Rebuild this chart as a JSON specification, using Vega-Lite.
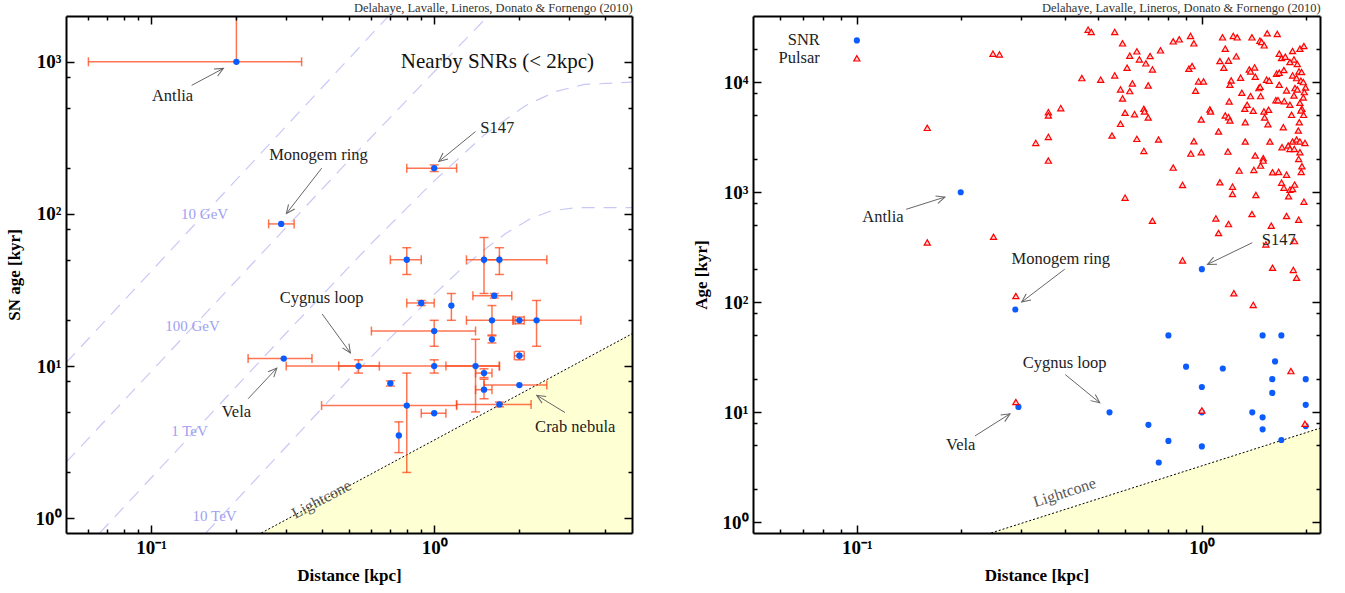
{
"$schema":"https://vega.github.io/schema/vega-lite/v6.json",
"padding":{"left":5,"top":1,"right":10,"bottom":5},
"spacing":121,
"bounds":"flush",
"config":{"view":{"stroke":null},"axis":{"grid":false,"labelFont":"Liberation Serif","labelFontWeight":"bold","labelFontSize":19,"labelColor":"black","titleFont":"Liberation Serif","titleFontWeight":"bold","titleFontSize":17,"titleColor":"black","domainColor":"black","domainWidth":2,"tickColor":"black","tickWidth":1.5,"labelOverlap":false,"labelFlush":false}},
"datasets":{
"lightcone":[{"d":0.245,"t":0.8},{"d":5,"t":16.3}],
"snr":[
{"name":"Antlia","d":0.2,"t":1000,"dlo":0.06,"dhi":0.34,"tlo":1000,"thi":10000},
{"name":"Monogem ring","d":0.288,"t":86,"dlo":0.26,"dhi":0.32,"tlo":null,"thi":null},
{"name":"S147","d":1.0,"t":200,"dlo":0.8,"dhi":1.2,"tlo":190,"thi":210},
{"name":"a","d":0.8,"t":50,"dlo":0.7,"dhi":0.9,"tlo":40,"thi":60},
{"name":"b","d":1.5,"t":50,"dlo":1.3,"dhi":1.7,"tlo":30,"thi":70},
{"name":"c","d":1.7,"t":50,"dlo":1.5,"dhi":2.5,"tlo":40,"thi":60},
{"name":"l","d":1.63,"t":29,"dlo":1.37,"dhi":1.88,"tlo":28,"thi":30},
{"name":"dd","d":0.9,"t":26,"dlo":0.8,"dhi":1.0,"tlo":25,"thi":27},
{"name":"e","d":1.15,"t":25,"dlo":null,"dhi":null,"tlo":20,"thi":30},
{"name":"f","d":1.0,"t":17,"dlo":0.6,"dhi":1.4,"tlo":13.5,"thi":20},
{"name":"g","d":1.6,"t":20,"dlo":1.3,"dhi":1.9,"tlo":16,"thi":25},
{"name":"h","d":2.0,"t":20,"dlo":1.93,"dhi":2.08,"tlo":19,"thi":21},
{"name":"i","d":2.3,"t":20,"dlo":1.9,"dhi":3.3,"tlo":13.5,"thi":27},
{"name":"j","d":1.6,"t":15,"dlo":null,"dhi":null,"tlo":14.2,"thi":15.8},
{"name":"k","d":2.0,"t":11.7,"dlo":1.92,"dhi":2.08,"tlo":11,"thi":12.5},
{"name":"Vela","d":0.294,"t":11.2,"dlo":0.22,"dhi":0.37,"tlo":null,"thi":null},
{"name":"Cygnus loop","d":0.54,"t":10,"dlo":0.46,"dhi":0.64,"tlo":9,"thi":11},
{"name":"n","d":1.0,"t":10,"dlo":0.3,"dhi":1.7,"tlo":9,"thi":11},
{"name":"o","d":1.4,"t":10,"dlo":1.1,"dhi":1.7,"tlo":5,"thi":15},
{"name":"u","d":1.5,"t":9,"dlo":1.4,"dhi":1.6,"tlo":8.4,"thi":9.6},
{"name":"p","d":0.7,"t":7.7,"dlo":null,"dhi":null,"tlo":7.4,"thi":8.0},
{"name":"v","d":1.5,"t":7,"dlo":1.4,"dhi":1.6,"tlo":6.1,"thi":8.2},
{"name":"w","d":2.0,"t":7.5,"dlo":1.5,"dhi":2.5,"tlo":null,"thi":null},
{"name":"q","d":0.8,"t":5.5,"dlo":0.4,"dhi":1.2,"tlo":2.0,"thi":9.0},
{"name":"r","d":1.7,"t":5.6,"dlo":1.2,"dhi":2.2,"tlo":5.4,"thi":5.8},
{"name":"s","d":1.0,"t":4.9,"dlo":0.9,"dhi":1.1,"tlo":null,"thi":null},
{"name":"t","d":0.75,"t":3.5,"dlo":null,"dhi":null,"tlo":2.7,"thi":4.3}],
"curves":[
{"E":"10 GeV","d":0.05,"t":10.5},{"E":"10 GeV","d":0.69,"t":2000},
{"E":"100 GeV","d":0.05,"t":2.33},{"E":"100 GeV","d":0.5,"t":225},{"E":"100 GeV","d":1.0,"t":860},{"E":"100 GeV","d":1.55,"t":2000},
{"E":"1 TeV","d":0.0658,"t":0.8},{"E":"1 TeV","d":0.3,"t":16.5},{"E":"1 TeV","d":0.6,"t":64},{"E":"1 TeV","d":1.0,"t":165},{"E":"1 TeV","d":1.5,"t":330},{"E":"1 TeV","d":2.1,"t":515},{"E":"1 TeV","d":2.7,"t":640},{"E":"1 TeV","d":3.4,"t":710},{"E":"1 TeV","d":5,"t":735},
{"E":"10 TeV","d":0.156,"t":0.8},{"E":"10 TeV","d":0.5,"t":8.2},{"E":"10 TeV","d":0.8,"t":19.7},{"E":"10 TeV","d":1.0,"t":29.6},{"E":"10 TeV","d":1.25,"t":43.7},{"E":"10 TeV","d":1.5,"t":58},{"E":"10 TeV","d":1.8,"t":75},{"E":"10 TeV","d":2.2,"t":93.7},{"E":"10 TeV","d":2.6,"t":105},{"E":"10 TeV","d":3.2,"t":110},{"E":"10 TeV","d":5,"t":110}],
"curvelabels":[{"text":"10 GeV","d":0.1544,"t":99.4},{"text":"100 GeV","d":0.14,"t":18.3},{"text":"1 TeV","d":0.1366,"t":3.73},{"text":"10 TeV","d":0.1675,"t":1.03}],
"arrows":[
{"name":"Antlia","d1":0.139,"t1":700,"d2":0.18,"t2":905},
{"name":"Monogem ring","d1":0.4005,"t1":200,"d2":0.3004,"t2":100.6},
{"name":"S147","d1":1.40,"t1":348,"d2":1.038,"t2":221},
{"name":"Cygnus loop","d1":0.402,"t1":22,"d2":0.506,"t2":12.2},
{"name":"Vela","d1":0.22,"t1":6.1,"d2":0.278,"t2":9.7},
{"name":"Crab nebula","d1":2.9,"t1":4.95,"d2":2.303,"t2":6.43}],
"labels":[
{"text":"Antlia","d":0.119,"t":600},
{"text":"Monogem ring","d":0.39,"t":245},
{"text":"S147","d":1.67,"t":368},
{"text":"Cygnus loop","d":0.40,"t":27.9},
{"text":"Vela","d":0.20,"t":5.0},
{"text":"Crab nebula","d":3.15,"t":3.96}],
"pulsars":[
{"d":0.468,"t":30060},{"d":0.478,"t":28640},{"d":0.559,"t":28640},{"d":0.589,"t":22580},{"d":0.826,"t":23550},{"d":0.86,"t":24550},{"d":0.927,"t":26330},{"d":0.948,"t":22580},{"d":1.148,"t":25600},{"d":1.169,"t":20180},
{"d":1.233,"t":26330},{"d":1.266,"t":25600},{"d":1.397,"t":25600},{"d":1.473,"t":23880},{"d":1.49,"t":23220},{"d":1.516,"t":21650},{"d":1.547,"t":27850},{"d":1.654,"t":27460},{"d":0.618,"t":17430},{"d":0.648,"t":19090},
{"d":0.659,"t":16140},{"d":0.708,"t":17300},{"d":0.759,"t":19500},{"d":0.688,"t":14850},{"d":0.607,"t":13550},{"d":0.719,"t":13090},{"d":0.917,"t":13270},{"d":0.937,"t":14030},{"d":1.128,"t":15580},{"d":1.195,"t":15700},
{"d":1.158,"t":13550},{"d":1.258,"t":17190},{"d":1.676,"t":18180},{"d":1.702,"t":16600},{"d":1.745,"t":17070},{"d":1.832,"t":19230},{"d":1.924,"t":20180},{"d":1.976,"t":21350},{"d":1.849,"t":16140},{"d":1.891,"t":14640},
{"d":1.8,"t":15270},{"d":0.449,"t":10910},{"d":0.509,"t":10540},{"d":0.559,"t":11540},{"d":0.581,"t":8603},{"d":0.629,"t":9759},{"d":0.618,"t":8307},{"d":0.589,"t":7126},{"d":0.699,"t":9357},{"d":0.978,"t":10180},
{"d":1.011,"t":10180},{"d":0.959,"t":8366},{"d":1.216,"t":10390},{"d":1.206,"t":9489},{"d":1.295,"t":10990},{"d":1.372,"t":13090},{"d":1.384,"t":12550},{"d":1.422,"t":13650},{"d":1.428,"t":11220},{"d":1.54,"t":10540},
{"d":1.568,"t":10320},{"d":1.646,"t":11950},{"d":1.676,"t":12210},{"d":1.729,"t":12910},{"d":1.676,"t":9489},{"d":1.832,"t":11540},{"d":1.882,"t":10910},{"d":1.912,"t":12550},{"d":1.946,"t":12380},{"d":1.937,"t":10320},
{"d":1.968,"t":10030},{"d":1.998,"t":8974},{"d":1.463,"t":8851},{"d":1.476,"t":9100},{"d":1.306,"t":8024},{"d":1.384,"t":7482},{"d":1.48,"t":7482},{"d":1.639,"t":6880},{"d":1.662,"t":6880},{"d":1.733,"t":6737},
{"d":1.76,"t":8425},{"d":1.8,"t":6237},{"d":1.862,"t":8851},{"d":1.891,"t":8603},{"d":1.849,"t":7586},{"d":1.981,"t":8136},{"d":1.968,"t":7276},{"d":1.924,"t":6506},{"d":1.95,"t":5737},{"d":1.937,"t":5540},
{"d":1.972,"t":5058},{"d":1.2,"t":6691},{"d":1.055,"t":5657},{"d":1.06,"t":5425},{"d":1.169,"t":4988},{"d":1.195,"t":4817},{"d":1.206,"t":4492},{"d":1.332,"t":5737},{"d":1.353,"t":6237},{"d":1.409,"t":5502},
{"d":1.513,"t":5425},{"d":1.561,"t":5618},{"d":1.52,"t":4784},{"d":1.554,"t":4159},{"d":1.336,"t":4337},{"d":1.82,"t":5058},{"d":1.722,"t":3906},{"d":1.916,"t":4337},{"d":0.996,"t":4587},{"d":0.599,"t":5275},
{"d":0.638,"t":5129},{"d":0.679,"t":5737},{"d":0.682,"t":5425},{"d":0.699,"t":4784},{"d":0.581,"t":4188},{"d":0.39,"t":5818},{"d":0.359,"t":5350},{"d":0.359,"t":4988},{"d":0.33,"t":2812},{"d":0.359,"t":3188},
{"d":0.359,"t":1941},{"d":0.549,"t":3279},{"d":0.648,"t":3058},{"d":0.679,"t":2377},{"d":0.749,"t":3016},{"d":0.826,"t":1676},{"d":0.929,"t":2247},{"d":0.996,"t":2312},{"d":0.948,"t":2912},{"d":1.118,"t":3566},
{"d":1.19,"t":2344},{"d":1.336,"t":2892},{"d":1.575,"t":2892},{"d":1.707,"t":2567},{"d":1.78,"t":2659},{"d":1.8,"t":2479},{"d":1.853,"t":2479},{"d":1.832,"t":2892},{"d":1.882,"t":3016},{"d":1.924,"t":2892},
{"d":1.99,"t":2812},{"d":1.904,"t":3641},{"d":1.924,"t":2312},{"d":1.908,"t":2011},{"d":1.95,"t":1724},{"d":1.941,"t":1531},{"d":1.428,"t":2156},{"d":1.506,"t":2039},{"d":1.506,"t":1941},{"d":1.48,"t":1748},
{"d":1.415,"t":1597},{"d":1.283,"t":1574},{"d":1.603,"t":1520},{"d":1.669,"t":1531},{"d":1.76,"t":1447},{"d":1.702,"t":1224},{"d":1.729,"t":1102},{"d":1.8,"t":1057},{"d":1.832,"t":1072},{"d":1.857,"t":1174},
{"d":1.784,"t":919},{"d":1.976,"t":822},{"d":1.128,"t":1233},{"d":1.227,"t":1125},{"d":1.227,"t":965},{"d":1.434,"t":945},{"d":0.879,"t":1166},{"d":0.599,"t":894},{"d":0.719,"t":551},{"d":1.098,"t":579},
{"d":1.195,"t":514},{"d":1.397,"t":634},{"d":1.118,"t":426},{"d":1.589,"t":497},{"d":1.76,"t":608},{"d":1.908,"t":563},{"d":1.533,"t":336},{"d":1.857,"t":360},{"d":0.879,"t":240},{"d":1.603,"t":206},
{"d":1.841,"t":197},{"d":1.882,"t":167},{"d":1.238,"t":121},{"d":0.248,"t":18180},{"d":0.259,"t":17910},{"d":0.16,"t":3851},{"d":0.16,"t":350},{"d":0.249,"t":394},{"d":0.289,"t":114},{"d":1.409,"t":94.7},
{"d":1.812,"t":23.7},{"d":0.289,"t":12.4},{"d":1.0,"t":10.4},{"d":1.99,"t":7.87}]
},
"hconcat":[
{
"width":566,"height":517,
"title":{"text":"Delahaye, Lavalle, Lineros, Donato & Fornengo (2010)","anchor":"end","fontSize":12.5,"fontWeight":"normal","font":"Liberation Serif","color":"#333","offset":1},
"resolve":{"axis":{"x":"independent","y":"independent"}},
"layer":[
{"data":{"name":"lightcone"},"mark":{"type":"area","color":"#ffffd4","clip":true},
 "encoding":{"x":{"field":"d","type":"quantitative","scale":{"type":"log","domain":[0.05,5],"nice":false},
   "axis":{"orient":"bottom","values":[0.1,1],"labelExpr":"datum.value==0.1?'10⁻¹':datum.value==1?'10⁰':''","ticks":false,"domain":true,"labelPadding":5,"title":"Distance [kpc]","titlePadding":10,"zindex":1}},
  "y":{"field":"t","type":"quantitative","scale":{"type":"log","domain":[0.8,2000],"nice":false},
   "axis":{"orient":"left","values":[1,10,100,1000],"labelExpr":"datum.value==1?'10⁰':datum.value==10?'10¹':datum.value==100?'10²':datum.value==1000?'10³':''","ticks":false,"domain":true,"labelPadding":5,"title":"SN age [kyr]","titlePadding":12,"zindex":1}},
  "y2":{"datum":0.8}}},
{"data":{"name":"lightcone"},"mark":{"type":"line","color":"black","strokeDash":[2,2],"strokeWidth":1,"clip":true},
 "encoding":{"x":{"field":"d","type":"quantitative","scale":{"type":"log","domain":[0.05,5],"nice":false},"axis":{"orient":"bottom","values":[0.1,1],"labels":false,"domain":false,"tickSize":-8,"title":null,"zindex":1}},
  "y":{"field":"t","type":"quantitative","scale":{"type":"log","domain":[0.8,2000],"nice":false},"axis":{"orient":"left","values":[1,10,100,1000],"labels":false,"domain":false,"tickSize":-8,"title":null,"zindex":1}}}},
{"data":{"name":"curves"},"mark":{"type":"line","color":"#c8c8f6","strokeDash":[13,9],"strokeWidth":1.2,"clip":true},
 "encoding":{"x":{"field":"d","type":"quantitative","scale":{"type":"log","domain":[0.05,5],"nice":false},"axis":{"orient":"bottom","values":[0.06,0.07,0.08,0.09,0.2,0.3,0.4,0.5,0.6,0.7,0.8,0.9,2,3,4],"labels":false,"domain":false,"tickSize":-4,"title":null,"zindex":1}},
  "y":{"field":"t","type":"quantitative","scale":{"type":"log","domain":[0.8,2000],"nice":false},"axis":{"orient":"left","values":[2,5,8,20,50,80,200,500,800],"labels":false,"domain":false,"tickSize":-4,"title":null,"zindex":1}},
  "detail":{"field":"E"}}},
{"data":{"name":"curvelabels"},"mark":{"type":"text","font":"Liberation Serif","fontSize":15,"color":"#a0a0f2"},
 "encoding":{"x":{"field":"d","type":"quantitative","scale":{"type":"log","domain":[0.05,5],"nice":false},"axis":{"orient":"top","values":[0.1,1],"labels":false,"domain":true,"tickSize":-8,"title":null,"zindex":1}},
  "y":{"field":"t","type":"quantitative","scale":{"type":"log","domain":[0.8,2000],"nice":false},"axis":{"orient":"right","values":[1,10,100,1000],"labels":false,"domain":true,"tickSize":-8,"title":null,"zindex":1}},
  "text":{"field":"text"}}},
{"data":{"values":[{"text":"Lightcone","d":0.4,"t":1.33}]},"mark":{"type":"text","font":"Liberation Serif","fontSize":16,"color":"#555","angle":-28},
 "encoding":{"x":{"field":"d","type":"quantitative","scale":{"type":"log","domain":[0.05,5],"nice":false},"axis":{"orient":"top","values":[0.06,0.07,0.08,0.09,0.2,0.3,0.4,0.5,0.6,0.7,0.8,0.9,2,3,4],"labels":false,"domain":false,"tickSize":-4,"title":null,"zindex":1}},
  "y":{"field":"t","type":"quantitative","scale":{"type":"log","domain":[0.8,2000],"nice":false},"axis":{"orient":"right","values":[2,5,8,20,50,80,200,500,800],"labels":false,"domain":false,"tickSize":-4,"title":null,"zindex":1}},
  "text":{"field":"text"}}},
{"data":{"name":"snr"},"transform":[{"filter":"datum.dlo != null"}],"mark":{"type":"rule","color":"#ff4010","opacity":0.72,"strokeWidth":1.5,"clip":true},
 "encoding":{"x":{"field":"dlo","type":"quantitative","scale":{"type":"log","domain":[0.05,5],"nice":false},"axis":null},"x2":{"field":"dhi"},
  "y":{"field":"t","type":"quantitative","scale":{"type":"log","domain":[0.8,2000],"nice":false},"axis":null}}},
{"data":{"name":"snr"},"transform":[{"fold":["dlo","dhi"],"as":["k","v"]},{"filter":"datum.v != null && datum.v != datum.d"}],"mark":{"type":"tick","orient":"vertical","size":9,"thickness":1.5,"color":"#ff4010","opacity":0.72,"clip":true},
 "encoding":{"x":{"field":"v","type":"quantitative","scale":{"type":"log","domain":[0.05,5],"nice":false},"axis":null},
  "y":{"field":"t","type":"quantitative","scale":{"type":"log","domain":[0.8,2000],"nice":false},"axis":null}}},
{"data":{"name":"snr"},"transform":[{"filter":"datum.tlo != null"}],"mark":{"type":"rule","color":"#ff4010","opacity":0.72,"strokeWidth":1.5,"clip":true},
 "encoding":{"x":{"field":"d","type":"quantitative","scale":{"type":"log","domain":[0.05,5],"nice":false},"axis":null},
  "y":{"field":"tlo","type":"quantitative","scale":{"type":"log","domain":[0.8,2000],"nice":false},"axis":null},"y2":{"field":"thi"}}},
{"data":{"name":"snr"},"transform":[{"fold":["tlo","thi"],"as":["k","v"]},{"filter":"datum.v != null && datum.v != datum.t"}],"mark":{"type":"tick","orient":"horizontal","size":9,"thickness":1.5,"color":"#ff4010","opacity":0.72,"clip":true},
 "encoding":{"x":{"field":"d","type":"quantitative","scale":{"type":"log","domain":[0.05,5],"nice":false},"axis":null},
  "y":{"field":"v","type":"quantitative","scale":{"type":"log","domain":[0.8,2000],"nice":false},"axis":null}}},
{"data":{"name":"snr"},"mark":{"type":"point","shape":"circle","filled":true,"color":"#0b5bff","size":40,"opacity":1,"clip":true},
 "encoding":{"x":{"field":"d","type":"quantitative","scale":{"type":"log","domain":[0.05,5],"nice":false},"axis":null},
  "y":{"field":"t","type":"quantitative","scale":{"type":"log","domain":[0.8,2000],"nice":false},"axis":null}}},
{"data":{"name":"arrows"},"mark":{"type":"rule","color":"#666","strokeWidth":1},
 "encoding":{"x":{"field":"d1","type":"quantitative","scale":{"type":"log","domain":[0.05,5],"nice":false},"axis":null},"x2":{"field":"d2"},
  "y":{"field":"t1","type":"quantitative","scale":{"type":"log","domain":[0.8,2000],"nice":false},"axis":null},"y2":{"field":"t2"}}},
{"data":{"name":"arrows"},"transform":[{"filter":"datum.name=='Antlia'"}],"mark":{"type":"point","shape":"M-1,-0.45L0,0L-1,0.45","filled":false,"stroke":"#666","strokeWidth":1,"size":300,"angle":-28.3,"opacity":1},
 "encoding":{"x":{"field":"d2","type":"quantitative","scale":{"type":"log","domain":[0.05,5],"nice":false},"axis":null},"y":{"field":"t2","type":"quantitative","scale":{"type":"log","domain":[0.8,2000],"nice":false},"axis":null}}},
{"data":{"name":"arrows"},"transform":[{"filter":"datum.name=='Monogem ring'"}],"mark":{"type":"point","shape":"M-1,-0.45L0,0L-1,0.45","filled":false,"stroke":"#666","strokeWidth":1,"size":300,"angle":127.3,"opacity":1},
 "encoding":{"x":{"field":"d2","type":"quantitative","scale":{"type":"log","domain":[0.05,5],"nice":false},"axis":null},"y":{"field":"t2","type":"quantitative","scale":{"type":"log","domain":[0.8,2000],"nice":false},"axis":null}}},
{"data":{"name":"arrows"},"transform":[{"filter":"datum.name=='S147'"}],"mark":{"type":"point","shape":"M-1,-0.45L0,0L-1,0.45","filled":false,"stroke":"#666","strokeWidth":1,"size":300,"angle":140.7,"opacity":1},
 "encoding":{"x":{"field":"d2","type":"quantitative","scale":{"type":"log","domain":[0.05,5],"nice":false},"axis":null},"y":{"field":"t2","type":"quantitative","scale":{"type":"log","domain":[0.8,2000],"nice":false},"axis":null}}},
{"data":{"name":"arrows"},"transform":[{"filter":"datum.name=='Cygnus loop'"}],"mark":{"type":"point","shape":"M-1,-0.45L0,0L-1,0.45","filled":false,"stroke":"#666","strokeWidth":1,"size":300,"angle":56.3,"opacity":1},
 "encoding":{"x":{"field":"d2","type":"quantitative","scale":{"type":"log","domain":[0.05,5],"nice":false},"axis":null},"y":{"field":"t2","type":"quantitative","scale":{"type":"log","domain":[0.8,2000],"nice":false},"axis":null}}},
{"data":{"name":"arrows"},"transform":[{"filter":"datum.name=='Vela'"}],"mark":{"type":"point","shape":"M-1,-0.45L0,0L-1,0.45","filled":false,"stroke":"#666","strokeWidth":1,"size":300,"angle":-46.9,"opacity":1},
 "encoding":{"x":{"field":"d2","type":"quantitative","scale":{"type":"log","domain":[0.05,5],"nice":false},"axis":null},"y":{"field":"t2","type":"quantitative","scale":{"type":"log","domain":[0.8,2000],"nice":false},"axis":null}}},
{"data":{"name":"arrows"},"transform":[{"filter":"datum.name=='Crab nebula'"}],"mark":{"type":"point","shape":"M-1,-0.45L0,0L-1,0.45","filled":false,"stroke":"#666","strokeWidth":1,"size":300,"angle":211.4,"opacity":1},
 "encoding":{"x":{"field":"d2","type":"quantitative","scale":{"type":"log","domain":[0.05,5],"nice":false},"axis":null},"y":{"field":"t2","type":"quantitative","scale":{"type":"log","domain":[0.8,2000],"nice":false},"axis":null}}},
{"data":{"name":"labels"},"mark":{"type":"text","font":"Liberation Serif","fontSize":16.5,"color":"#222"},
 "encoding":{"x":{"field":"d","type":"quantitative","scale":{"type":"log","domain":[0.05,5],"nice":false},"axis":null},
  "y":{"field":"t","type":"quantitative","scale":{"type":"log","domain":[0.8,2000],"nice":false},"axis":null},"text":{"field":"text"}}},
{"data":{"values":[{"text":"Nearby SNRs (< 2kpc)","d":1.673,"t":1000}]},"mark":{"type":"text","font":"Liberation Serif","fontSize":21,"color":"#111"},
 "encoding":{"x":{"field":"d","type":"quantitative","scale":{"type":"log","domain":[0.05,5],"nice":false},"axis":null},
  "y":{"field":"t","type":"quantitative","scale":{"type":"log","domain":[0.8,2000],"nice":false},"axis":null},"text":{"field":"text"}}}
]},
{
"width":567,"height":517,
"title":{"text":"Delahaye, Lavalle, Lineros, Donato & Fornengo (2010)","anchor":"end","fontSize":12.5,"fontWeight":"normal","font":"Liberation Serif","color":"#333","offset":1},
"resolve":{"axis":{"x":"independent","y":"independent"}},
"layer":[
{"data":{"name":"lightcone"},"mark":{"type":"area","color":"#ffffd4","clip":true},
 "encoding":{"x":{"field":"d","type":"quantitative","scale":{"type":"log","domain":[0.05,2.2],"nice":false},
   "axis":{"orient":"bottom","values":[0.1,1],"labelExpr":"datum.value==0.1?'10⁻¹':datum.value==1?'10⁰':''","ticks":false,"domain":true,"labelPadding":5,"title":"Distance [kpc]","titlePadding":10,"zindex":1}},
  "y":{"field":"t","type":"quantitative","scale":{"type":"log","domain":[0.8,40000],"nice":false},
   "axis":{"orient":"left","values":[1,10,100,1000,10000],"labelExpr":"datum.value==1?'10⁰':datum.value==10?'10¹':datum.value==100?'10²':datum.value==1000?'10³':datum.value==10000?'10⁴':''","ticks":false,"domain":true,"labelPadding":5,"title":"Age [kyr]","titlePadding":12,"zindex":1}},
  "y2":{"datum":0.8}}},
{"data":{"name":"lightcone"},"mark":{"type":"line","color":"black","strokeDash":[2,2],"strokeWidth":1,"clip":true},
 "encoding":{"x":{"field":"d","type":"quantitative","scale":{"type":"log","domain":[0.05,2.2],"nice":false},"axis":{"orient":"bottom","values":[0.1,1],"labels":false,"domain":false,"tickSize":-8,"title":null,"zindex":1}},
  "y":{"field":"t","type":"quantitative","scale":{"type":"log","domain":[0.8,40000],"nice":false},"axis":{"orient":"left","values":[1,10,100,1000,10000],"labels":false,"domain":false,"tickSize":-8,"title":null,"zindex":1}}}},
{"data":{"values":[{"text":"Lightcone","d":0.4,"t":1.865}]},"mark":{"type":"text","font":"Liberation Serif","fontSize":16,"color":"#555","angle":-18},
 "encoding":{"x":{"field":"d","type":"quantitative","scale":{"type":"log","domain":[0.05,2.2],"nice":false},"axis":{"orient":"bottom","values":[0.06,0.07,0.08,0.09,0.2,0.3,0.4,0.5,0.6,0.7,0.8,0.9,2],"labels":false,"domain":false,"tickSize":-4,"title":null,"zindex":1}},
  "y":{"field":"t","type":"quantitative","scale":{"type":"log","domain":[0.8,40000],"nice":false},"axis":{"orient":"left","values":[2,5,8,20,50,80,200,500,800,2000,5000,8000,20000],"labels":false,"domain":false,"tickSize":-4,"title":null,"zindex":1}},
  "text":{"field":"text"}}},
{"data":{"name":"snr"},"mark":{"type":"point","shape":"circle","filled":true,"color":"#0b5bff","size":38,"opacity":1,"clip":true},
 "encoding":{"x":{"field":"d","type":"quantitative","scale":{"type":"log","domain":[0.05,2.2],"nice":false},"axis":{"orient":"top","values":[0.1,1],"labels":false,"domain":true,"tickSize":-8,"title":null,"zindex":1}},
  "y":{"field":"t","type":"quantitative","scale":{"type":"log","domain":[0.8,40000],"nice":false},"axis":{"orient":"right","values":[1,10,100,1000,10000],"labels":false,"domain":true,"tickSize":-8,"title":null,"zindex":1}}}},
{"data":{"name":"pulsars"},"mark":{"type":"point","shape":"triangle-up","filled":true,"fill":"#ffd2d2","stroke":"#ff0000","strokeWidth":1.2,"size":38,"opacity":1,"clip":true},
 "encoding":{"x":{"field":"d","type":"quantitative","scale":{"type":"log","domain":[0.05,2.2],"nice":false},"axis":{"orient":"top","values":[0.06,0.07,0.08,0.09,0.2,0.3,0.4,0.5,0.6,0.7,0.8,0.9,2],"labels":false,"domain":false,"tickSize":-4,"title":null,"zindex":1}},
  "y":{"field":"t","type":"quantitative","scale":{"type":"log","domain":[0.8,40000],"nice":false},"axis":{"orient":"right","values":[2,5,8,20,50,80,200,500,800,2000,5000,8000,20000],"labels":false,"domain":false,"tickSize":-4,"title":null,"zindex":1}}}},
{"data":{"name":"arrows"},"transform":[{"filter":"datum.name != 'Crab nebula'"}],"mark":{"type":"rule","color":"#666","strokeWidth":1},
 "encoding":{"x":{"field":"d1","type":"quantitative","scale":{"type":"log","domain":[0.05,2.2],"nice":false},"axis":null},"x2":{"field":"d2"},
  "y":{"field":"t1","type":"quantitative","scale":{"type":"log","domain":[0.8,40000],"nice":false},"axis":null},"y2":{"field":"t2"}}},
{"data":{"name":"arrows"},"transform":[{"filter":"datum.name=='Antlia'"}],"mark":{"type":"point","shape":"M-1,-0.45L0,0L-1,0.45","filled":false,"stroke":"#666","strokeWidth":1,"size":300,"angle":-18.2,"opacity":1},
 "encoding":{"x":{"field":"d2","type":"quantitative","scale":{"type":"log","domain":[0.05,2.2],"nice":false},"axis":null},"y":{"field":"t2","type":"quantitative","scale":{"type":"log","domain":[0.8,40000],"nice":false},"axis":null}}},
{"data":{"name":"arrows"},"transform":[{"filter":"datum.name=='Monogem ring'"}],"mark":{"type":"point","shape":"M-1,-0.45L0,0L-1,0.45","filled":false,"stroke":"#666","strokeWidth":1,"size":300,"angle":142.9,"opacity":1},
 "encoding":{"x":{"field":"d2","type":"quantitative","scale":{"type":"log","domain":[0.05,2.2],"nice":false},"axis":null},"y":{"field":"t2","type":"quantitative","scale":{"type":"log","domain":[0.8,40000],"nice":false},"axis":null}}},
{"data":{"name":"arrows"},"transform":[{"filter":"datum.name=='S147'"}],"mark":{"type":"point","shape":"M-1,-0.45L0,0L-1,0.45","filled":false,"stroke":"#666","strokeWidth":1,"size":300,"angle":154.3,"opacity":1},
 "encoding":{"x":{"field":"d2","type":"quantitative","scale":{"type":"log","domain":[0.05,2.2],"nice":false},"axis":null},"y":{"field":"t2","type":"quantitative","scale":{"type":"log","domain":[0.8,40000],"nice":false},"axis":null}}},
{"data":{"name":"arrows"},"transform":[{"filter":"datum.name=='Cygnus loop'"}],"mark":{"type":"point","shape":"M-1,-0.45L0,0L-1,0.45","filled":false,"stroke":"#666","strokeWidth":1,"size":300,"angle":37.5,"opacity":1},
 "encoding":{"x":{"field":"d2","type":"quantitative","scale":{"type":"log","domain":[0.05,2.2],"nice":false},"axis":null},"y":{"field":"t2","type":"quantitative","scale":{"type":"log","domain":[0.8,40000],"nice":false},"axis":null}}},
{"data":{"name":"arrows"},"transform":[{"filter":"datum.name=='Vela'"}],"mark":{"type":"point","shape":"M-1,-0.45L0,0L-1,0.45","filled":false,"stroke":"#666","strokeWidth":1,"size":300,"angle":-31.8,"opacity":1},
 "encoding":{"x":{"field":"d2","type":"quantitative","scale":{"type":"log","domain":[0.05,2.2],"nice":false},"axis":null},"y":{"field":"t2","type":"quantitative","scale":{"type":"log","domain":[0.8,40000],"nice":false},"axis":null}}},
{"data":{"name":"labels"},"transform":[{"filter":"datum.text != 'Crab nebula'"}],"mark":{"type":"text","font":"Liberation Serif","fontSize":16.5,"color":"#222"},
 "encoding":{"x":{"field":"d","type":"quantitative","scale":{"type":"log","domain":[0.05,2.2],"nice":false},"axis":null},
  "y":{"field":"t","type":"quantitative","scale":{"type":"log","domain":[0.8,40000],"nice":false},"axis":null},"text":{"field":"text"}}},
{"data":{"values":[{"label":"SNR","d":0.1,"t":24000},{"label":"Pulsar","d":0.1,"t":16500}]},"mark":{"type":"text","font":"Liberation Serif","fontSize":16.5,"color":"#222","align":"right","dx":-37},
 "encoding":{"x":{"field":"d","type":"quantitative","scale":{"type":"log","domain":[0.05,2.2],"nice":false},"axis":null},
  "y":{"field":"t","type":"quantitative","scale":{"type":"log","domain":[0.8,40000],"nice":false},"axis":null},"text":{"field":"label"}}},
{"data":{"values":[{"label":"SNR","d":0.1,"t":24000}]},"mark":{"type":"point","shape":"circle","filled":true,"color":"#0b5bff","size":38,"opacity":1},
 "encoding":{"x":{"field":"d","type":"quantitative","scale":{"type":"log","domain":[0.05,2.2],"nice":false},"axis":null},
  "y":{"field":"t","type":"quantitative","scale":{"type":"log","domain":[0.8,40000],"nice":false},"axis":null}}},
{"data":{"values":[{"label":"Pulsar","d":0.1,"t":16500}]},"mark":{"type":"point","shape":"triangle-up","filled":true,"fill":"#ffd2d2","stroke":"#ff0000","strokeWidth":1.2,"size":38,"opacity":1},
 "encoding":{"x":{"field":"d","type":"quantitative","scale":{"type":"log","domain":[0.05,2.2],"nice":false},"axis":null},
  "y":{"field":"t","type":"quantitative","scale":{"type":"log","domain":[0.8,40000],"nice":false},"axis":null}}}
]}
]
}
